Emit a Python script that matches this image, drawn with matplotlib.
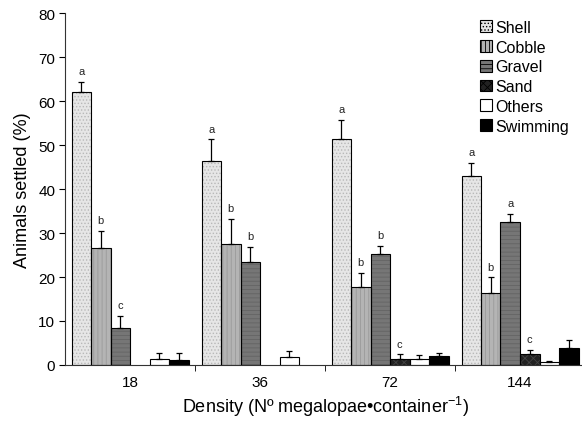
import numpy as np
import matplotlib.pyplot as plt
from matplotlib.patches import Patch

plt.rcParams['font.family'] = ['Liberation Sans', 'DejaVu Sans']
plt.rcParams['mathtext.fontset'] = 'custom'
plt.rcParams['mathtext.rm'] = 'Liberation Sans'
plt.rcParams['hatch.linewidth'] = 0.6

densities = ['18', '36', '72', '144']
substrates = ['Shell', 'Cobble', 'Gravel', 'Sand', 'Others', 'Swimming']

means = {
    'Shell':    [62.0, 46.3, 51.3, 43.0],
    'Cobble':   [26.5, 27.6, 17.8, 16.3],
    'Gravel':   [8.3, 23.4, 25.3, 32.6],
    'Sand':     [0.0, 0.0, 1.4, 2.6],
    'Others':   [1.3, 1.9, 1.3, 0.6],
    'Swimming': [1.2, 0.0, 2.0, 3.8],
}
errors = {
    'Shell':    [2.3, 5.0, 4.4, 2.9],
    'Cobble':   [4.0, 5.6, 3.1, 3.6],
    'Gravel':   [2.9, 3.5, 1.8, 1.8],
    'Sand':     [0.0, 0.0, 1.0, 0.9],
    'Others':   [1.5, 1.2, 1.0, 0.3],
    'Swimming': [1.5, 0.0, 0.7, 1.8],
}
letters = {
    'Shell':  ['a', 'a', 'a', 'a'],
    'Cobble': ['b', 'b', 'b', 'b'],
    'Gravel': ['c', 'b', 'b', 'a'],
    'Sand':   ['', '', 'c', 'c'],
}

# face colour, hatch pattern, hatch colour
styles = {
    'Shell':    ('#e6e6e6', '.....', '#b8b8b8'),
    'Cobble':   ('#b4b4b4', '||||', '#9a9a9a'),
    'Gravel':   ('#767676', '----', '#646464'),
    'Sand':     ('#222222', 'xxxx', '#444444'),
    'Others':   ('white', None, 'white'),
    'Swimming': ('black', None, 'black'),
}

fig = plt.figure(figsize=(5.82, 4.31), dpi=100)
ax = fig.add_axes([65 / 582, 65 / 431, 520 / 582, 352 / 431])

x = np.arange(len(densities))
width = 0.15
n = len(substrates)

for i, s in enumerate(substrates):
    pos = x + (i - (n - 1) / 2) * width
    vals = np.array(means[s])
    err = np.array(errors[s])
    fc, hatch, hc = styles[s]
    keep = vals > 0
    ax.bar(pos[keep], vals[keep], width, color=fc, hatch=hatch,
           edgecolor=hc, linewidth=0, zorder=2)
    ax.bar(pos[keep], vals[keep], width, fill=False, edgecolor='black',
           linewidth=0.8, zorder=3)
    ax.errorbar(pos[keep], vals[keep], yerr=[np.zeros(keep.sum()), err[keep]],
                fmt='none', ecolor='black', elinewidth=0.9, capsize=2.5,
                capthick=0.9, zorder=4)
    if s in letters:
        for p, v, e, lab in zip(pos, vals, err, letters[s]):
            if lab:
                ax.text(p, v + e + 1.3, lab, ha='center', va='bottom',
                        fontsize=8, color='#222222')

ax.set_xlim(-0.5, 3.5)
ax.set_ylim(0, 80)
ax.set_yticks(np.arange(0, 81, 10))
ax.set_xticks(x)
ax.set_xticklabels(densities)
ax.set_xticks([0.5, 1.5, 2.5], minor=True)
ax.tick_params(axis='x', which='major', length=0, pad=7, labelsize=11)
ax.tick_params(axis='x', which='minor', length=4, direction='out')
ax.tick_params(axis='y', length=4, direction='out', labelsize=11, pad=3)
for sp in ['top', 'right']:
    ax.spines[sp].set_visible(False)
for sp in ['left', 'bottom']:
    ax.spines[sp].set_linewidth(0.8)
    ax.spines[sp].set_color('#333333')

ax.set_ylabel('Animals settled (%)', fontsize=13, labelpad=5)
ax.set_xlabel('Density (Nº megalopae•container$^{-1}$)', fontsize=13, labelpad=4)

handles = []
for s in substrates:
    fc, hatch, hc = styles[s]
    handles.append(Patch(facecolor=fc, hatch=hatch, edgecolor='black',
                         linewidth=0.8, label=s))
ax.legend(handles=handles, loc='upper right', bbox_to_anchor=(0.982, 0.999),
          frameon=False, fontsize=11.5, handlelength=0.75, handleheight=0.75,
          handletextpad=0.25, labelspacing=0.3, borderaxespad=0)

fig.savefig('out.png', dpi=100)
